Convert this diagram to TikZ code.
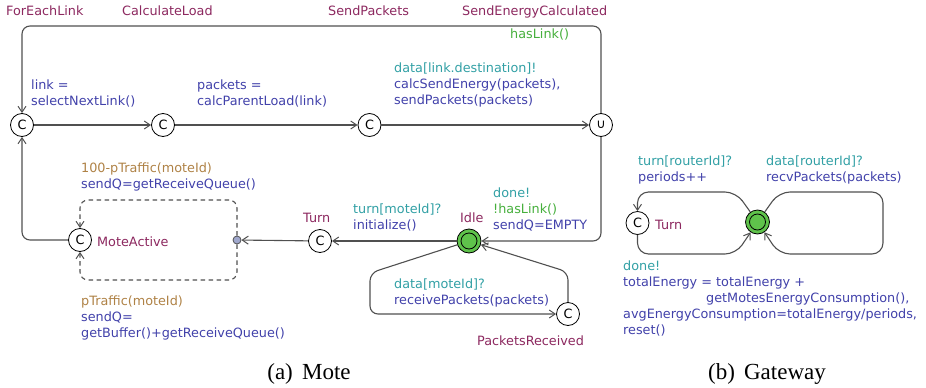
\documentclass[tikz,border=0pt]{standalone}
\usepackage{fontspec}
\setmainfont{Liberation Serif}
\newfontfamily\uppfont{DejaVu Sans}
\usetikzlibrary{arrows.meta}

\definecolor{locname}{RGB}{140,40,95}
\definecolor{guardc}{RGB}{70,175,60}
\definecolor{syncc}{RGB}{50,160,165}
\definecolor{updc}{RGB}{65,65,170}
\definecolor{probc}{RGB}{175,130,70}
\definecolor{edgec}{RGB}{80,80,80}
\definecolor{initc}{RGB}{95,195,75}
\definecolor{branchc}{RGB}{160,168,205}

\newcommand\guardtxt[1]{\textcolor{guardc}{#1}}
\newcommand\synctxt[1]{\textcolor{syncc}{#1}}
\newcommand\updtxt[1]{\textcolor{updc}{#1}}
\newcommand\probtxt[1]{\textcolor{probc}{#1}}

\tikzset{
  every node/.style={font=\uppfont\fontsize{12.8}{16}\selectfont},
  loc/.style={circle,draw=black,line width=0.8pt,minimum size=23pt,inner sep=0pt,fill=white},
  initloc/.style={circle,draw=black,line width=0.8pt,minimum size=24pt,inner sep=0pt,fill=initc},
  branch/.style={circle,draw=edgec,line width=0.8pt,minimum size=8pt,inner sep=0pt,fill=branchc},
  locname/.style={anchor=base west,inner sep=0pt,text=locname},
  lbl/.style={anchor=north west,inner sep=0pt,align=left},
  edge/.style={draw=edgec,line width=1.1pt,rounded corners=8pt,
    -{Straight Barb[length=6pt,width=8pt,line width=1pt]}},
  dedge/.style={edge,dash pattern=on 4.5pt off 3.5pt},
  caption/.style={anchor=base,inner sep=0pt,font=\rmfamily\fontsize{23}{26}\selectfont}
}

\begin{document}
\begin{tikzpicture}[x=1pt,y=-1pt]
\useasboundingbox (0,0) rectangle (926,388);

% ---------------- Mote template ----------------
\node[loc] (fel) at (22,125) {C};
\node[loc] (cl)  at (163,125) {C};
\node[loc] (sp)  at (369.5,125) {C};
\node[loc] (sec) at (601,125) {∪};
\node[initloc] (idle) at (469,241) {};
\draw[line width=0.8pt] (idle.center) circle (8pt);
\node[loc] (turn) at (320,241) {C};
\node[loc] (pr) at (568,314) {C};
\node[loc] (ma) at (80,240) {C};
\node[branch] (br) at (237,240) {};

\coordinate (top) at (0,26);
\coordinate (dtop) at (0,200);
\coordinate (dbot) at (0,280);
\coordinate (ipa) at (370,273);
\coordinate (ipb) at (370,314);
\coordinate (pra) at (568,272);

% location names
\node[locname] (nfel) at (6,15) {ForEachLink};
\node[locname] (ncl) at (122,15) {CalculateLoad};
\node[locname] (nsp) at (328,15) {SendPackets};
\node[locname] (nsec) at (462,15) {SendEnergyCalculated};
\node[locname] (nma) at (97,246) {MoteActive};
\node[locname] (nturn) at (303,222) {Turn};
\node[locname] (nidle) at (460,222) {Idle};
\node[locname] (npr) at (477,345) {PacketsReceived};

% edges
\draw[edge] (sec.north) -- (sec.north |- top) -- (fel.north |- top) -- (fel.north);
\draw[edge] (fel) -- (cl);
\draw[edge] (cl) -- (sp);
\draw[edge] (sp) -- (sec);
\draw[edge] (sec.south) -- (sec.south |- idle) -- (idle);
\draw[edge] (idle) -- (turn);
\draw[edge] (turn) -- (br);
\draw[edge] (ma) -- (fel |- ma) -- (fel.south);
\draw[dedge] (br) -- (br |- dtop) -- (ma |- dtop) -- (ma.north);
\draw[dedge] (br) -- (br |- dbot) -- (ma |- dbot) -- (ma.south);
\draw[edge] (idle) -- (ipa) -- (ipb) -- (pr);
\draw[edge] (pr.north) -- (pra) -- (idle);

% edge labels
\node[lbl] (lhas) at (510,27) {\strut\guardtxt{hasLink()}};
\node[lbl] (llink) at (31,78) {\strut\updtxt{link =}\\\updtxt{selectNextLink()}};
\node[lbl] (lpack) at (197,78) {\strut\updtxt{packets =}\\\updtxt{calcParentLoad(link)}};
\node[lbl] (lsend) at (394,61) {\strut\synctxt{data[link.destination]!}\\
  \updtxt{calcSendEnergy(packets),}\\\updtxt{sendPackets(packets)}};
\node[lbl] (lp1) at (81,161) {\strut\probtxt{100-pTraffic(moteId)}\\
  \updtxt{sendQ=getReceiveQueue()}};
\node[lbl] (lp2) at (81,294) {\strut\probtxt{pTraffic(moteId)}\\
  \updtxt{sendQ=}\\\updtxt{getBuffer()+getReceiveQueue()}};
\node[lbl] (lturn) at (353,202) {\strut\synctxt{turn[moteId]?}\\\updtxt{initialize()}};
\node[lbl] (ldone) at (493,186) {\strut\synctxt{done!}\\\guardtxt{!hasLink()}\\
  \updtxt{sendQ=EMPTY}};
\node[lbl] (lrecv) at (394,277) {\strut\synctxt{data[moteId]?}\\
  \updtxt{receivePackets(packets)}};

% ---------------- Gateway template ----------------
\node[loc] (gturn) at (637.5,223) {C};
\node[initloc] (gw) at (757.5,222) {};
\draw[line width=0.8pt] (gw.center) circle (8pt);
\node[locname] (ngturn) at (655,229) {Turn};

\coordinate (gtop) at (0,192);
\coordinate (gbot) at (0,254);
\coordinate (gla) at (736,192);
\coordinate (glb) at (736,254);
\coordinate (gra) at (779,192);
\coordinate (grb) at (883,192);
\coordinate (grc) at (883,254);
\coordinate (grd) at (779,254);

\draw[edge,rounded corners=11pt] (gw) -- (gla) -- (gturn |- gtop) -- (gturn.north);
\draw[edge,rounded corners=11pt] (gturn.south) -- (gturn |- gbot) -- (glb) -- (gw);
\draw[edge,rounded corners=11pt] (gw) -- (gra) -- (grb) -- (grc) -- (grd) -- (gw);

\node[lbl] (gl1) at (638,154) {\strut\synctxt{turn[routerId]?}\\\updtxt{periods++}};
\node[lbl] (gl2) at (766,154) {\strut\synctxt{data[routerId]?}\\
  \updtxt{recvPackets(packets)}};
\node[lbl] (gl3) at (623,259) {\strut\synctxt{done!}\\
  \updtxt{totalEnergy = totalEnergy +}\\
  \updtxt{\hspace*{83pt}getMotesEnergyConsumption(),}\\
  \updtxt{avgEnergyConsumption=totalEnergy/periods,}\\
  \updtxt{reset()}};

% ---------------- captions ----------------
\node[caption] (capa) at (309,379) {(a)\hspace{0.4em}Mote};
\node[caption] (capb) at (767,379) {(b)\hspace{0.4em}Gateway};
\end{tikzpicture}
\end{document}
